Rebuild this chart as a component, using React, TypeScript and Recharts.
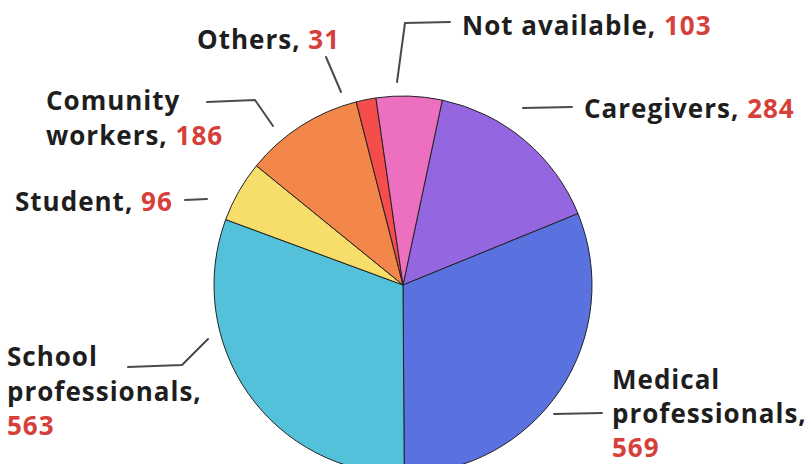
import React from 'react';
import { PieChart, Pie, Cell } from 'recharts';

const groups = [
  'Caregivers',
  'Medical professionals',
  'School professionals',
  'Student',
  'Comunity workers',
  'Others',
  'Not available',
];
const counts = [284, 569, 563, 96, 186, 31, 103];
const sliceColors = ['#9467e0', '#5972e0', '#53c1d9', '#f7dd69', '#f28749', '#f44d4b', '#ec70bf'];

const data = groups.map((name, i) => ({ name, value: counts[i] }));

// label text lines + placement, and the sketchy leader line for each slice
const labelLayout = [
  { x: 584, y: 118, lh: 34.5, lines: ['Caregivers, '], lead: [[523, 108], [572, 107]] },
  { x: 612, y: 389, lh: 34, lines: ['Medical', 'professionals,', ''], lead: [[554, 414], [602, 413]] },
  { x: 7, y: 366, lh: 34.5, lines: ['School', 'professionals,', ''], lead: [[208, 339], [182, 365], [128, 367]] },
  { x: 15, y: 211, lh: 34.5, lines: ['Student, '], lead: [[185, 200], [207, 199]] },
  { x: 46, y: 110, lh: 34.5, lines: ['Comunity', 'workers, '], lead: [[273, 126], [255, 100], [207, 102]] },
  { x: 197, y: 49, lh: 34.5, lines: ['Others, '], lead: [[341, 92], [326, 57]] },
  { x: 462, y: 35, lh: 34.5, lines: ['Not available, '], lead: [[397, 82], [405, 23], [450, 22]] },
];

const renderLabel = (props: any) => {
  const { index, value } = props;
  const l = labelLayout[index];
  if (!l) return null;
  return (
    <g key={`lbl-${index}`}>
      <polyline
        points={l.lead.map(p => p.join(',')).join(' ')}
        fill="none"
        stroke="#2a2a2a"
        strokeWidth={2}
        strokeLinecap="round"
        strokeLinejoin="round"
        opacity={0.85}
      />
      <text
        x={l.x}
        y={l.y}
        fontFamily="'Open Sans', 'Noto Sans', sans-serif"
        fontWeight={700}
        fontSize={26}
        letterSpacing={1}
        fill="#1e1e1e"
      >
        {l.lines.map((t, j) => (
          <tspan key={j} x={l.x} dy={j === 0 ? 0 : l.lh}>
            {t}
            {j === l.lines.length - 1 && <tspan fill="#d6403a">{value}</tspan>}
          </tspan>
        ))}
      </text>
    </g>
  );
};

export default function App() {
  return (
    <div style={{ position: 'absolute', left: 0, top: 0, width: 808, height: 464, background: '#fff' }}>
      <PieChart width={808} height={464}>
        <Pie
          data={data}
          dataKey="value"
          nameKey="name"
          cx={398}
          cy={280}
          outerRadius={189}
          startAngle={78}
          endAngle={-282}
          stroke="#222"
          strokeWidth={1}
          label={renderLabel}
          labelLine={false}
          isAnimationActive={false}
        >
          {data.map((d, i) => (
            <Cell key={d.name} fill={sliceColors[i]} />
          ))}
        </Pie>
      </PieChart>
    </div>
  );
}
